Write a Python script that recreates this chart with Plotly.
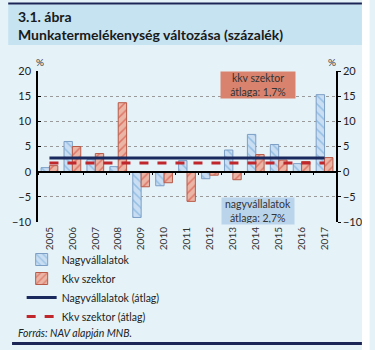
import plotly.graph_objects as go

years = ["2005", "2006", "2007", "2008", "2009", "2010", "2011",
         "2012", "2013", "2014", "2015", "2016", "2017"]
nagy = [0.8, 6.0, 2.4, 1.0, -9.1, -2.8, 2.2, -1.4, 4.3, 7.4, 5.4, 1.6, 15.3]
kkv = [1.2, 5.0, 3.6, 13.7, -3.0, -2.2, -5.9, -0.7, -1.6, 3.4, 2.3, 2.0, 2.8]
NAGY_AVG = 2.7
KKV_AVG = 1.7
y_ticks = [-10, -5, 0, 5, 10, 15, 20]

FONT = "Lato"
BG = "#e5f2f8"
BAND = "#c6e3f1"
NAVY = "#1b2556"

# plot area in pixels: left 31, right 341, top 71, bottom 222
L, R, T, B = 31, 341, 71, 222
W, H = R - L, B - T


def px(xp):
    return (xp - L) / W


def py(yp):
    return (B - yp) / H


fig = go.Figure()
fig.add_trace(go.Bar(
    x=years, y=nagy, name="Nagyvállalatok",
    marker=dict(color="#c9def2", line=dict(color="#7d9fc6", width=1),
                pattern=dict(shape="\\", fgcolor="#5f9fd6", bgcolor="#c9def2",
                             size=6, solidity=0.25)),
))
fig.add_trace(go.Bar(
    x=years, y=kkv, name="Kkv szektor",
    marker=dict(color="#eab5a5", line=dict(color="#b85a48", width=1),
                pattern=dict(shape="/", fgcolor="#d2372a", bgcolor="#eab5a5",
                             size=6, solidity=0.25)),
))
fig.add_trace(go.Scatter(
    x=years, y=[NAGY_AVG] * len(years), name="Nagyvállalatok (átlag)",
    mode="lines", line=dict(color="#1b2a5e", width=3),
    xaxis="x2", yaxis="y2",
))
fig.add_trace(go.Scatter(
    x=years, y=[KKV_AVG] * len(years), name="Kkv szektor (átlag)",
    mode="lines", line=dict(color="#c0272d", width=3, dash="dash"),
    xaxis="x2", yaxis="y2",
))

fmt = lambda v: f"{v:.1f}".replace(".", ",")

fig.update_layout(
    width=375, height=350,
    margin=dict(l=L, r=375 - R, t=T, b=350 - B, pad=0),
    paper_bgcolor=BG, plot_bgcolor=BG,
    font=dict(family=FONT, size=11, color="#222222"),
    barmode="group", bargap=0.27, bargroupgap=0.0,
    xaxis=dict(type="category", categoryorder="array", categoryarray=years,
               range=[-0.5, len(years) - 0.5], showline=False, showgrid=False,
               zeroline=False, ticks="", tickangle=-90,
               tickfont=dict(size=10, family=FONT, color="#333333"),
               ticklabelstandoff=2),
    xaxis2=dict(type="category", categoryorder="array", categoryarray=years,
                range=[-0.5, len(years) - 0.5], overlaying="x",
                anchor="free", position=1 / 3, showline=True,
                linecolor="#000000", linewidth=1.5, showgrid=False,
                zeroline=False, tickson="boundaries", ticks="outside",
                ticklen=3, tickcolor="#000000", showticklabels=False),
    yaxis=dict(range=[-10, 20], tickvals=y_ticks, showline=True,
               linecolor="#000000", linewidth=1.5, ticks="inside", ticklen=3,
               tickcolor="#000000", showgrid=True, gridcolor="#9a9a9a",
               griddash="dot", gridwidth=1, zeroline=False,
               tickfont=dict(size=11), ticklabelstandoff=3),
    yaxis2=dict(range=[-10, 20], tickvals=y_ticks, overlaying="y",
                side="right", anchor="x2", showline=True,
                linecolor="#000000", linewidth=1.5, ticks="outside",
                ticklen=3, tickcolor="#000000", showgrid=False,
                zeroline=False, tickfont=dict(size=11)),
    legend=dict(x=px(14), y=py(245), xanchor="left", yanchor="top",
                bgcolor="rgba(0,0,0,0)", font=dict(size=10.5, color="#222222"),
                tracegroupgap=0, itemwidth=30, traceorder="normal"),
    showlegend=True,
)

shapes = [
    dict(type="rect", xref="paper", yref="paper", x0=px(0), x1=px(368),
         y0=py(45), y1=py(4.5), fillcolor=BAND, line=dict(width=0),
         layer="below"),
    dict(type="rect", xref="paper", yref="paper", x0=px(0), x1=px(368),
         y0=py(4.5), y1=py(2.5), fillcolor=NAVY, line=dict(width=0)),
    dict(type="rect", xref="paper", yref="paper", x0=px(4), x1=px(368),
         y0=py(345), y1=py(342), fillcolor=NAVY, line=dict(width=0)),
    dict(type="rect", xref="paper", yref="paper", x0=px(368), x1=px(376),
         y0=py(351), y1=py(-1), fillcolor="#ffffff", line=dict(width=0)),
]
fig.update_layout(shapes=shapes)

ann = [
    dict(text="<b>3.1. ábra</b>", x=px(8), y=py(17), xanchor="left",
         yanchor="middle", font=dict(size=14, color="#1a1a1a")),
    dict(text="<b>Munkatermelékenység változása (százalék)</b>", x=px(8),
         y=py(35), xanchor="left", yanchor="middle",
         font=dict(size=14, color="#1a1a1a")),
    dict(text="%", x=px(33), y=py(62), xanchor="center", yanchor="middle",
         font=dict(size=10, color="#333333")),
    dict(text="%", x=px(337), y=py(62), xanchor="center", yanchor="middle",
         font=dict(size=10, color="#333333")),
    dict(text=f"kkv szektor<br>átlaga: {fmt(KKV_AVG)}%", x=px(260),
         y=py(85), xanchor="center", yanchor="middle", bgcolor="#d9836f",
         width=72, height=24, borderpad=1,
         font=dict(size=10.5, color="#333333")),
    dict(text=f"nagyvállalatok<br>átlaga: {fmt(NAGY_AVG)}%", x=px(260),
         y=py(210.5), xanchor="center", yanchor="middle", bgcolor="#bad4ec",
         width=70, height=24, borderpad=1,
         font=dict(size=10.5, color="#333333")),
    dict(text="<i>Forrás: NAV alapján MNB.</i>", x=px(8), y=py(333),
         xanchor="left", yanchor="middle",
         font=dict(size=10.5, color="#222222")),
]
for a in ann:
    a.update(xref="paper", yref="paper", showarrow=False)
fig.update_layout(annotations=ann)

fig.write_html("out.html")
